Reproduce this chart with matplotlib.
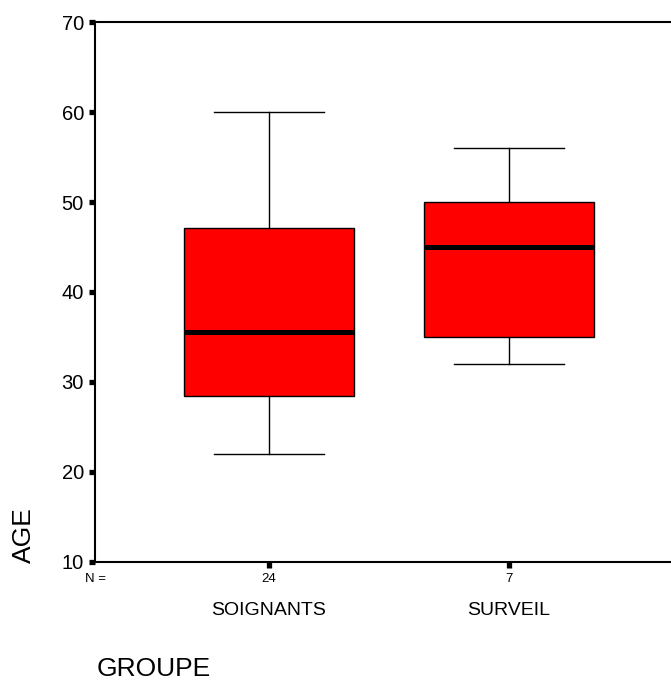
import matplotlib
matplotlib.use('Agg')
import matplotlib.pyplot as plt

plt.rcParams['font.family'] = ['Liberation Sans', 'DejaVu Sans']

# data
groups = ['SOIGNANTS', 'SURVEIL']
counts = ['24', '7']
whisker_low = [22, 32]
q1 = [28.4, 35]
median = [35.5, 45]
q3 = [47.1, 50]
whisker_high = [60, 56]
y_ticks = [10, 20, 30, 40, 50, 60, 70]

stats = []
for i in range(len(groups)):
    stats.append({'whislo': whisker_low[i], 'q1': q1[i], 'med': median[i],
                  'q3': q3[i], 'whishi': whisker_high[i], 'fliers': []})

# initial the figure
fig = plt.figure(figsize=(6.71, 6.84), dpi=100)
ax = fig.add_axes([0.1416, 0.1784, 0.8764, 0.7894])

positions = list(range(1, len(groups) + 1))
ax.bxp(stats, positions=positions, widths=0.71, capwidths=0.46,
       patch_artist=True, showfliers=False,
       boxprops=dict(facecolor='#ff0000', edgecolor='black', linewidth=1),
       medianprops=dict(color='black', linewidth=3.6, solid_capstyle='butt'),
       whiskerprops=dict(color='black', linewidth=1),
       capprops=dict(color='black', linewidth=1))

# figure settings
ax.set_xlim(0.275, 2.725)
ax.set_ylim(10, 70)
ax.set_yticks(y_ticks)
ax.set_xticks(positions)
ax.set_xticklabels(counts, fontsize=9.5)
ax.tick_params(axis='y', labelsize=14.5, length=4, width=3.8, pad=4)
ax.tick_params(axis='x', length=4, width=3.8, pad=4)
for side in ['left', 'bottom', 'top']:
    ax.spines[side].set_linewidth(1.5)
ax.spines['right'].set_visible(False)

ax.text(0.275, -0.032, 'N =', transform=ax.get_xaxis_transform(),
        ha='center', va='center', fontsize=9.5)
for pos, name in zip(positions, groups):
    ax.text(pos, -0.089, name, transform=ax.get_xaxis_transform(),
            ha='center', va='center', fontsize=14)

fig.text(97 / 671, 1 - 669 / 684, 'GROUPE', ha='left', va='center', fontsize=19)
fig.text(24 / 671, 1 - 535 / 684, 'AGE', ha='center', va='center',
         rotation=90, fontsize=19)

fig.savefig('out.png', dpi=100)
